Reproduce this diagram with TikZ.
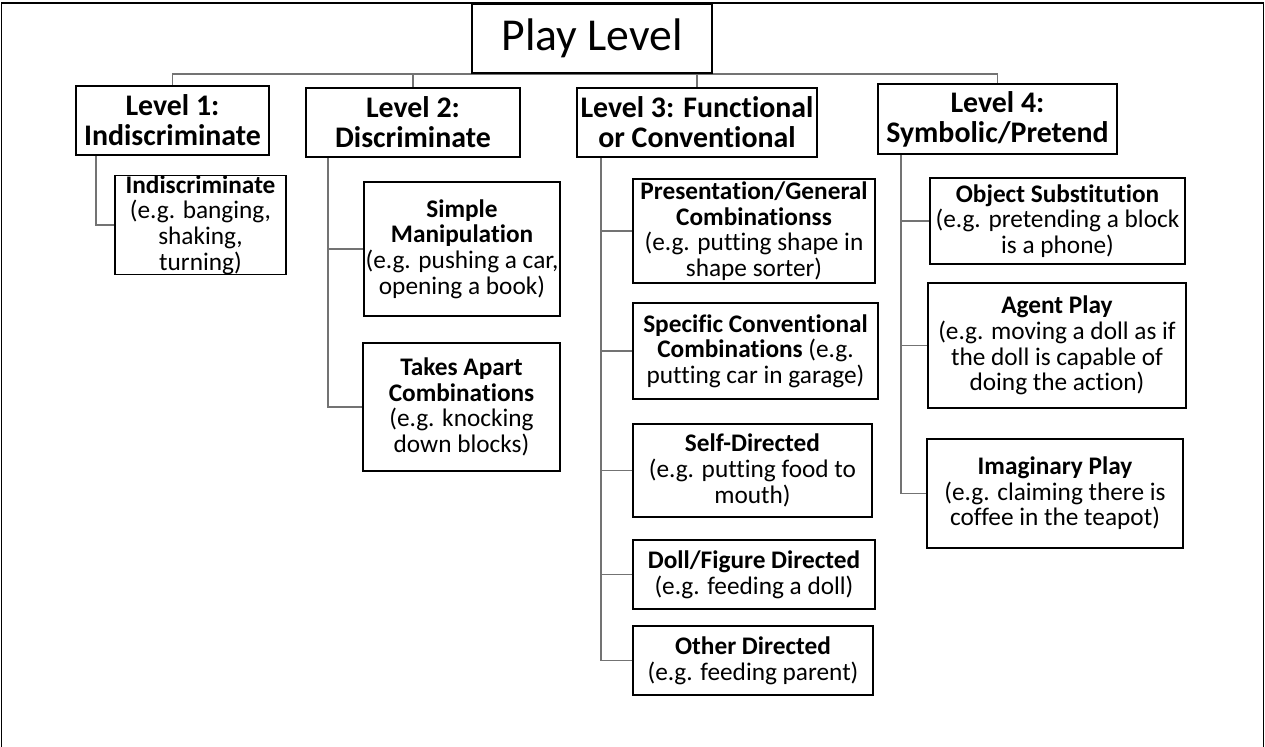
\documentclass[tikz,border=0pt]{standalone}
\usepackage{fontspec}
\setmainfont{Carlito}[Ligatures=NoCommon]
\usepackage{tikz}
\pgfdeclarelayer{bg}
\pgfsetlayers{bg,main}
\tikzset{
    every node/.style={draw, rectangle, line width=1.1pt, inner sep=0mm, align=center},
    sz/.style 2 args={minimum width=#1*0.02cm, minimum height=#2*0.02cm},
    lvl/.style={font=\fontsize{17}{17}\selectfont\bfseries},
    leaf/.style={font=\fontsize{14.4}{14.6}\selectfont},
    link/.style={draw=black!55, line width=0.8pt}
}

\begin{document}
\begin{tikzpicture}[x=0.02cm, y=-0.02cm]
        \useasboundingbox (0,0) rectangle (1265,747);
        \draw[line width=1.1pt] (1.5,747) -- (1.5,3) -- (1263.5,3) -- (1263.5,747);
        \node (top) [sz={240}{69}, font=\fontsize{26}{30}\selectfont] at (592, 38.5) {Play Level};
        \node (l1) [lvl, sz={193}{69}] at (172.5, 120.5) {Level 1:\\Indiscriminate};
        \node (l2) [lvl, sz={214}{69}] at (413, 122.5) {Level 2:\\Discriminate};
        \node (l3) [lvl, sz={240}{69}] at (697, 122.5) {Level 3: Functional\\or Conventional};
        \node (l4) [lvl, sz={239}{70}] at (997.5, 119) {Level 4:\\Symbolic/Pretend};
        \node (ind) [leaf, sz={171}{96}] at (200.5, 225) {\textbf{Indiscriminate}\\(e.g. banging,\\shaking,\\turning)};
        \node (simple) [leaf, sz={196}{134}] at (462, 249) {\textbf{Simple}\\\textbf{Manipulation}\\(e.g. pushing a car,\\opening a book)};
        \node (takes) [leaf, sz={197}{128}] at (461.5, 407) {\textbf{Takes Apart}\\\textbf{Combinations}\\(e.g. knocking\\down blocks)};
        \node (pres) [leaf, sz={242}{104}] at (754, 231) {\textbf{Presentation/General}\\\textbf{Combinationss}\\(e.g. putting shape in\\shape sorter)};
        \node (spec) [leaf, sz={245}{96}] at (755.5, 351) {\textbf{Specific Conventional}\\\textbf{Combinations} (e.g.\\putting car in garage)};
        \node (self) [leaf, sz={239}{93}] at (752.5, 470.5) {\textbf{Self-Directed}\\(e.g. putting food to\\mouth)};
        \node (doll) [leaf, sz={242}{69}] at (754, 574.5) {\textbf{Doll/Figure Directed}\\(e.g. feeding a doll)};
        \node (other) [leaf, sz={240}{69}] at (753, 660.5) {\textbf{Other Directed}\\(e.g. feeding parent)};
        \node (obj) [leaf, sz={255}{86}] at (1057.5, 221) {\textbf{Object Substitution}\\(e.g. pretending a block\\is a phone)};
        \node (agent) [leaf, sz={258}{125}] at (1057, 345.5) {\textbf{Agent Play}\\(e.g. moving a doll as if\\the doll is capable of\\doing the action)};
        \node (imag) [leaf, sz={256}{109}] at (1055, 493.5) {\textbf{Imaginary Play}\\(e.g. claiming there is\\coffee in the teapot)};
        \coordinate (bus) at (592, 74);
        \begin{pgfonlayer}{bg}
                \draw[link] (l1.north) |- (bus) -| (l4.north);
                \draw[link] (l2.north) -- (l2.north |- bus);
                \draw[link] (l3.north) -- (l3.north |- bus);
                \draw[link] ([xshift=0.42cm]l1.south west) |- (ind.west);
                \foreach \c in {simple,takes}
                        \draw[link] ([xshift=0.46cm]l2.south west) |- (\c.west);
                \foreach \c in {pres,spec,self,doll,other}
                        \draw[link] ([xshift=0.5cm]l3.south west) |- (\c.west);
                \foreach \c in {obj,agent,imag}
                        \draw[link] ([xshift=0.48cm]l4.south west) |- (\c.west);
        \end{pgfonlayer}
\end{tikzpicture}
\end{document}
